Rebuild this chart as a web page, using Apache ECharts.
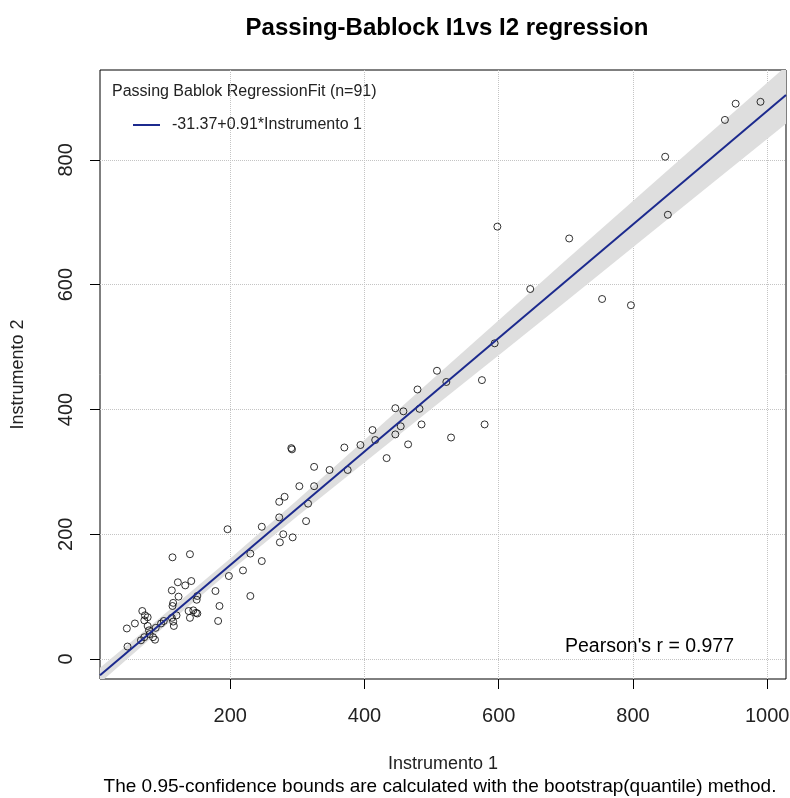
<!DOCTYPE html>
<html>
<head>
<meta charset="utf-8">
<script src="https://cdn.jsdelivr.net/npm/echarts@6/dist/echarts.min.js"></script>
<style>
  html, body { margin: 0; padding: 0; background: #fff; }
  #chart { width: 790px; height: 798px; }
</style>
</head>
<body>
<div id="chart"></div>
<script>
// 测量值 (Instrumento 1 / Instrumento 2)
const inst1 = [
  598, 705, 647, 754, 797, 848, 852, 937, 953, 990, 594, 575,
  508, 522, 479, 446, 458, 482, 454, 485, 579, 412, 446, 416, 465, 529, 394, 433,
  370, 291, 292, 325, 348, 375, 303, 325, 281, 273, 316, 273, 313, 247, 196, 279,
  293, 274, 230, 247, 219, 198, 230,
  114, 140, 122, 133, 142, 113, 178, 123, 115, 114, 151, 184, 145, 149, 138, 140,
  151, 182, 69, 73, 77, 58, 46, 72, 77, 79, 113, 115, 116, 101, 97, 89, 85, 88,
  72, 67, 47, 80, 120, 150
];
const inst2 = [
  693, 674, 593, 577, 567, 805, 712, 864, 890, 893, 506, 447,
  462, 444, 432, 402, 397, 401, 373, 376, 376, 367, 360, 351, 344, 355, 343, 322,
  339, 338, 336, 308, 303, 303, 277, 277, 260, 252, 249, 227, 221, 212, 208, 200,
  195, 187, 169, 157, 142, 133, 101,
  163, 168, 123, 118, 125, 110, 109, 100, 90, 85, 101, 85, 78, 74, 77, 66,
  73, 61, 77, 70, 67, 57, 49, 62, 53, 46, 66, 60, 53, 61, 57, 50, 35, 31,
  35, 30, 20, 40, 70, 95
];

// 回归系数 (图例读数)
const intercept = -31.37;
const slope = 0.91;
const lineX = [6, 1028];

// 置信带
const bandX = [6, 100, 200, 300, 400, 500, 600, 700, 800, 900, 1028];
const bandLower = [-38, 50, 141, 229, 315, 401, 487, 573, 660, 747, 858];
const bandUpper = [-14, 70, 161, 255, 351, 447, 543, 639, 734, 829, 950];

// 刻度
const xTicks = [200, 400, 600, 800, 1000];
const yTicks = [0, 200, 400, 600, 800];

const points = inst1.map((x, i) => [x, inst2[i]]);
const fitLine = lineX.map(x => [x, intercept + slope * x]);

const font = 'Liberation Sans, Arial, sans-serif';
const chart = echarts.init(document.getElementById('chart'));

const option = {
  animation: false,
  title: {
    text: 'Passing-Bablock I1vs I2 regression',
    left: 442,
    top: 11,
    textAlign: 'center',
    textStyle: { fontFamily: font, fontSize: 24, fontWeight: 'bold', color: '#000' }
  },
  grid: {
    left: 100,
    right: 4,
    top: 70,
    bottom: 119,
    outerBoundsMode: 'none',
    show: true,
    borderColor: '#000',
    borderWidth: 1,
    backgroundColor: '#fff'
  },
  legend: {
    data: ['-31.37+0.91*Instrumento 1'],
    icon: 'rect',
    left: 133,
    top: 117,
    padding: 0,
    itemWidth: 27,
    itemHeight: 2,
    textStyle: { fontFamily: font, fontSize: 16, color: '#222', padding: [0, 0, 0, 7] }
  },
  xAxis: {
    type: 'value',
    min: 6,
    max: 1028,
    name: 'Instrumento 1',
    nameLocation: 'middle',
    nameGap: 76,
    nameTextStyle: { fontFamily: font, fontSize: 18, color: '#222' },
    axisLine: { show: false, onZero: false },
    axisTick: {
      show: true,
      length: 10,
      customValues: xTicks,
      lineStyle: { color: '#000' }
    },
    axisLabel: {
      customValues: xTicks,
      formatter: v => String(v),
      margin: 27,
      fontFamily: font,
      fontSize: 20,
      color: '#222'
    },
    splitLine: { show: true, lineStyle: { type: 'dotted', color: '#c4c4c4', width: 1 } }
  },
  yAxis: {
    type: 'value',
    min: -32,
    max: 944,
    name: 'Instrumento 2',
    nameLocation: 'middle',
    nameGap: 73,
    nameTextStyle: { fontFamily: font, fontSize: 18, color: '#222' },
    axisLine: { show: false, onZero: false },
    axisTick: {
      show: true,
      length: 10,
      customValues: yTicks,
      lineStyle: { color: '#000' }
    },
    axisLabel: {
      customValues: yTicks,
      formatter: v => String(v),
      rotate: 90,
      margin: 24,
      fontFamily: font,
      fontSize: 20,
      color: '#222'
    },
    splitLine: { show: true, lineStyle: { type: 'dotted', color: '#c4c4c4', width: 1 } }
  },
  graphic: [
    {
      type: 'text',
      left: 112,
      top: 84,
      style: { text: 'Passing Bablok RegressionFit (n=91)', font: '16px ' + font, fill: '#222' }
    },
    {
      type: 'text',
      left: 565,
      top: 637,
      style: { text: "Pearson's r = 0.977", font: '19.5px ' + font, fill: '#000' }
    },
    {
      type: 'text',
      x: 440,
      y: 787,
      style: {
        text: 'The 0.95-confidence bounds are calculated with the bootstrap(quantile) method.',
        font: '19px ' + font,
        fill: '#000',
        align: 'center',
        verticalAlign: 'middle'
      }
    }
  ],
  series: [
    {
      // 置信带
      type: 'custom',
      clip: true,
      silent: true,
      data: [[500, 400]],
      renderItem: function (params, api) {
        const pts = [];
        for (let i = 0; i < bandX.length; i++) {
          pts.push(api.coord([bandX[i], bandUpper[i]]));
        }
        for (let i = bandX.length - 1; i >= 0; i--) {
          pts.push(api.coord([bandX[i], bandLower[i]]));
        }
        return {
          type: 'polygon',
          shape: { points: pts },
          style: { fill: '#dedede' }
        };
      }
    },
    {
      type: 'scatter',
      data: points,
      symbol: 'circle',
      symbolSize: 7,
      itemStyle: { color: 'rgba(0,0,0,0)', borderColor: '#000', borderWidth: 1 }
    },
    {
      name: '-31.37+0.91*Instrumento 1',
      type: 'line',
      data: fitLine,
      symbol: 'none',
      clip: true,
      lineStyle: { color: '#1c2a8e', width: 2 },
      itemStyle: { color: '#1c2a8e' }
    }
  ]
};

chart.setOption(option);
</script>
</body>
</html>
